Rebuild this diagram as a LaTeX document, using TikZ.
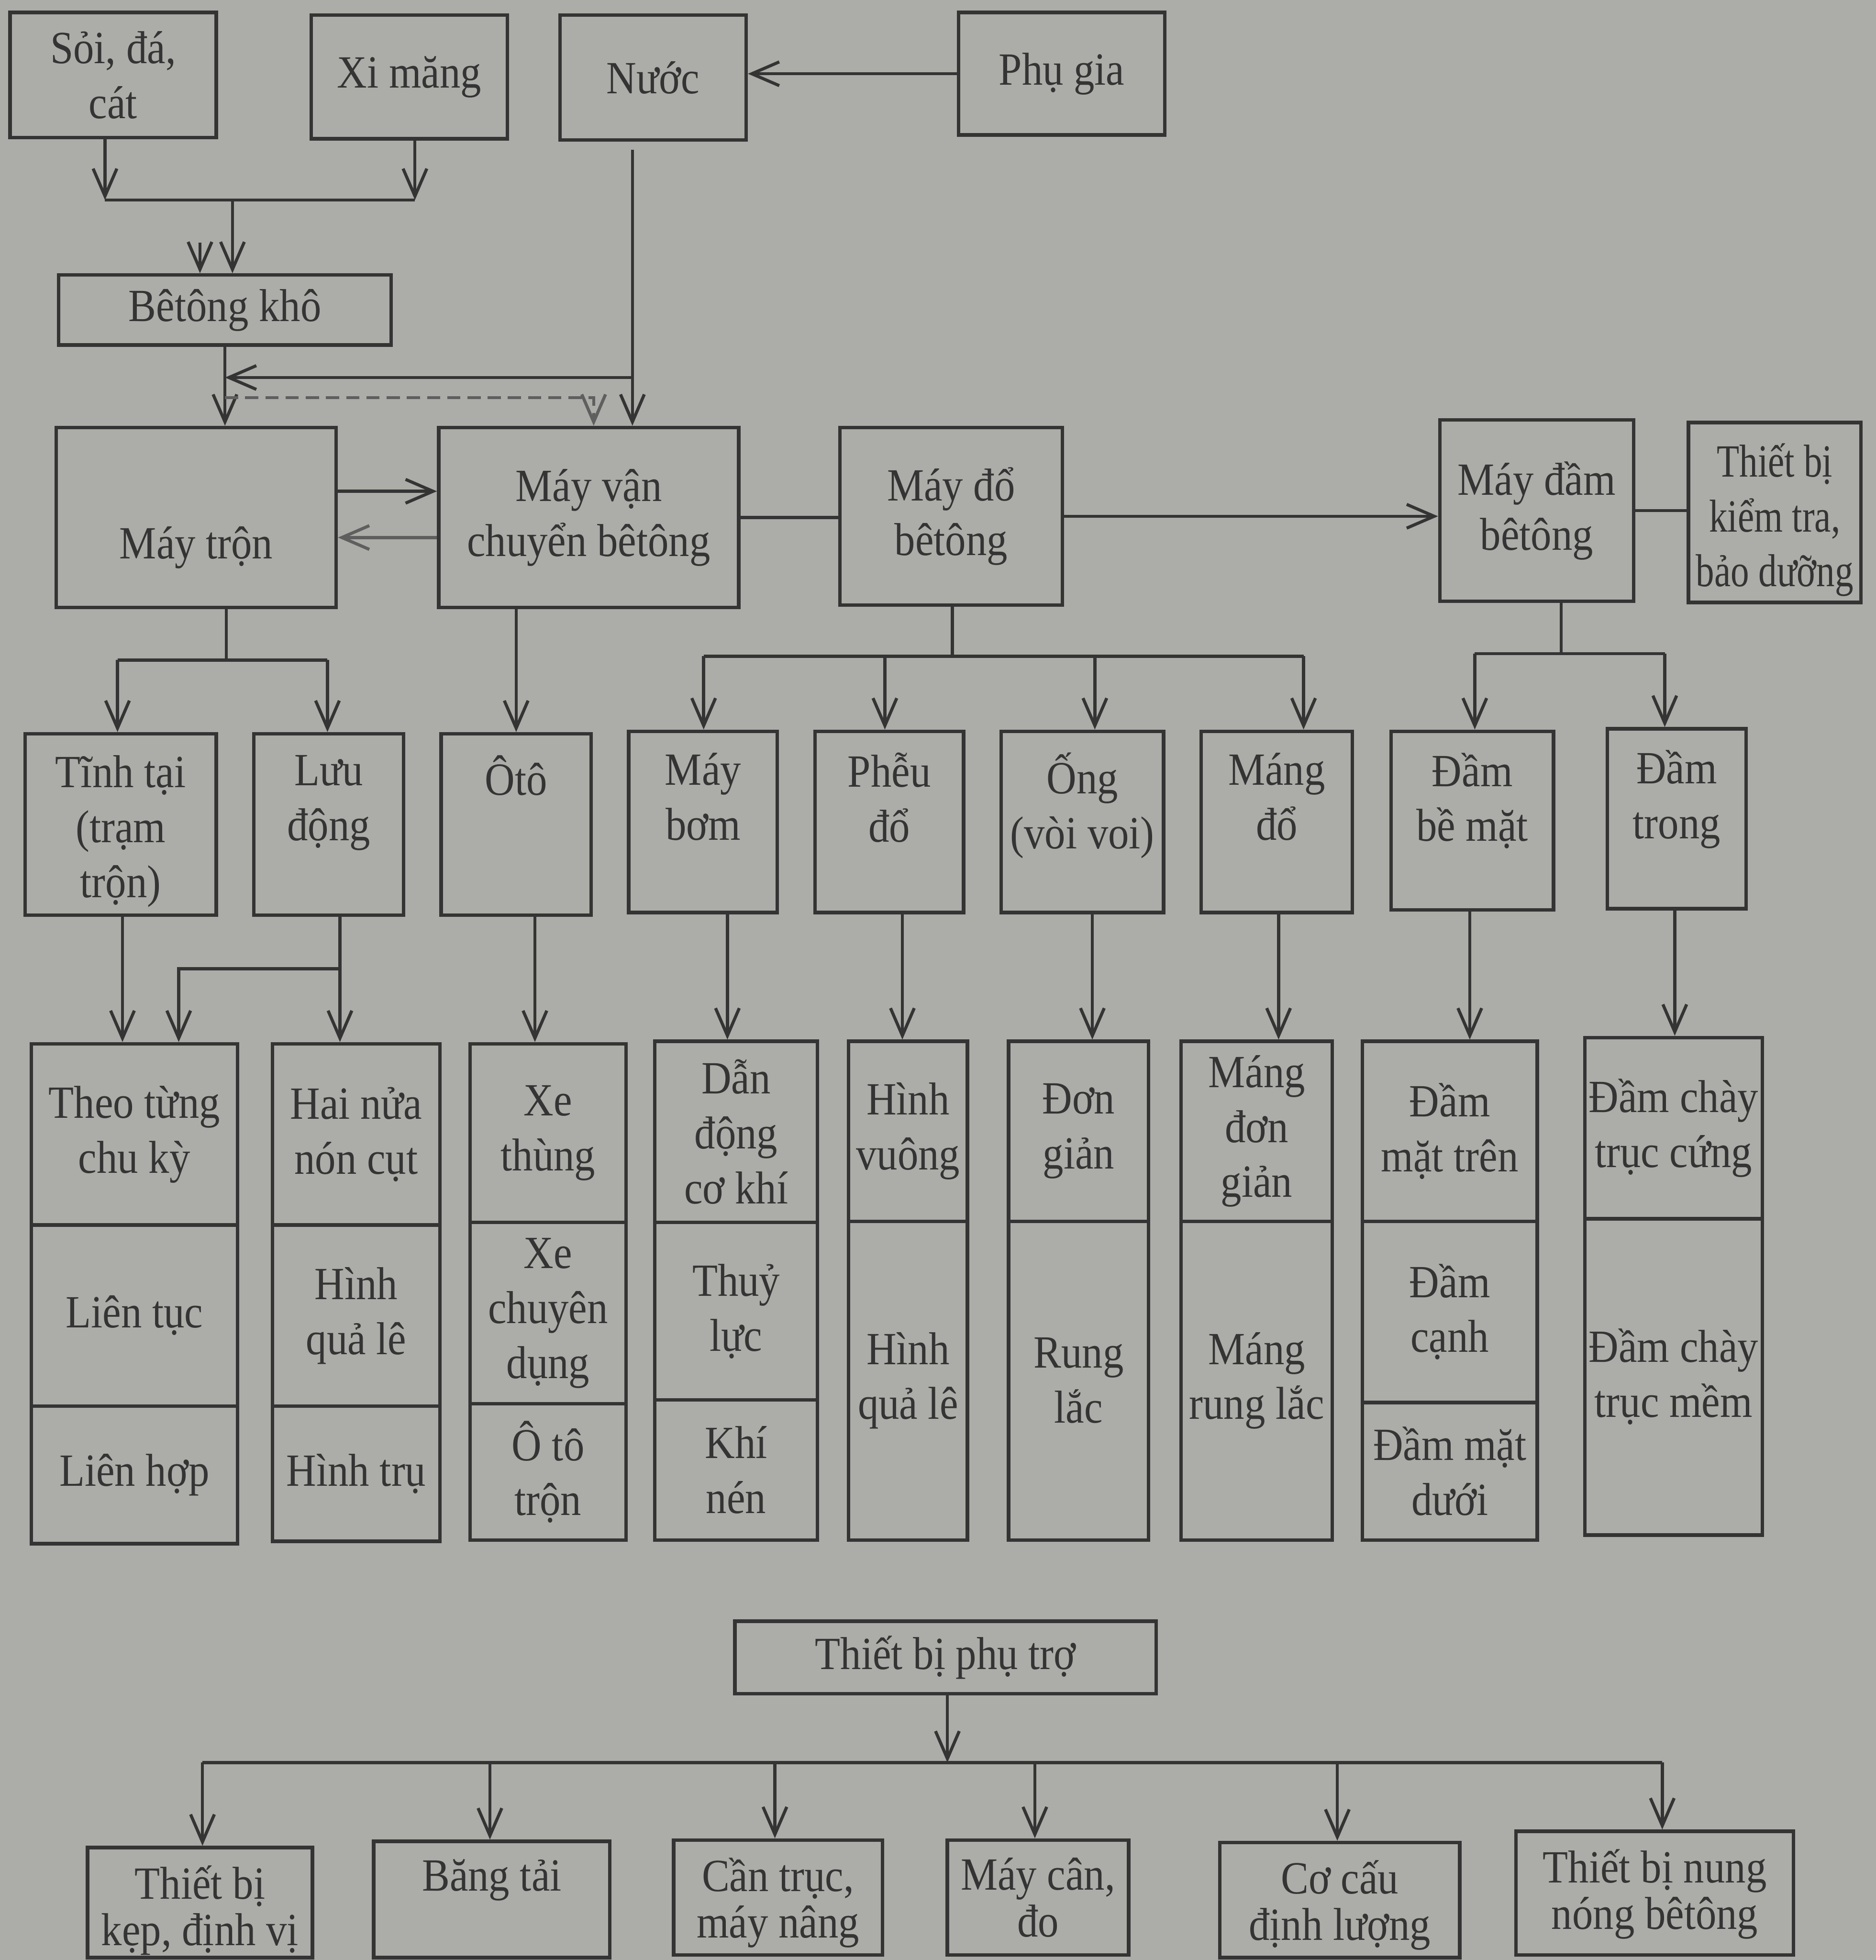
\documentclass[tikz,border=0pt]{standalone}
\usepackage{fontspec}
\setmainfont{Liberation Serif}[FakeStretch=0.9]
\usetikzlibrary{
    arrows.meta,
    positioning,
    fit
}
\definecolor{PaperGray}{RGB}{172,172,168}
\definecolor{InkGray}{RGB}{52,52,52}
\definecolor{FaintInk}{RGB}{95,95,95}
\newcommand{\boxfont}{\fontsize{10.5}{12.5}\selectfont}
\newcommand{\tightfont}{\fontsize{10.5}{10.6}\selectfont}
\tikzset{
  box/.style     = {draw=InkGray, line width=0.8pt, inner sep=0pt},
  txt/.style     = {inner sep=0pt, align=center, text=InkGray, font=\boxfont},
  ctext/.style   = {txt, anchor=center},
  toptext/.style = {txt, anchor=north, yshift=-1.8mm},
  lowtext/.style = {txt, font=\tightfont, anchor=north, yshift=-1.5mm},
  arr/.style     = {-{Straight Barb[length=2.2mm,width=1.9mm]}, InkGray, line width=0.7pt},
  ln/.style      = {InkGray, line width=0.7pt},
  faint/.style   = {FaintInk}
}

\begin{document}
\begin{tikzpicture}[x=0.1mm, y=-0.1mm]
\useasboundingbox (0,0) rectangle (1501,1568);
\clip (0,0) rectangle (1501,1568);
\fill[PaperGray] (0,0) rectangle (1501,1568);

% raw materials
\node[box, fit={(8,10) (173,110)},   label={[ctext]center:{Sỏi, đá,\\cát}}] (soi)    {};
\node[box, fit={(249,12) (406,111)}, label={[ctext]center:Xi măng}]         (ximang) {};
\node[box, fit={(448,12) (597,112)}, label={[ctext]center:Nước}]            (nuoc)   {};
\node[box, fit={(767,10) (932,108)}, label={[ctext]center:Phụ gia}]         (phugia) {};
\node[box, fit={(47,220) (313,276)}, label={[ctext]center:Bêtông khô}]      (kho)    {};

% main machines
\node[box, fit={(45,342) (269,486)},   label={[ctext, yshift=-2.4mm]center:Máy trộn}]     (tron)      {};
\node[box, fit={(351,342) (591,486)},  label={[ctext]center:Máy vận\\chuyển bêtông}]      (vanchuyen) {};
\node[box, fit={(672,342) (850,484)},  label={[ctext]center:Máy đổ\\bêtông}]              (maydo)     {};
\node[box, fit={(1152,336) (1307,481)},label={[ctext]center:Máy đầm\\bêtông}]             (maydam)    {};
\node[box, fit={(1351,338) (1489,482)},
      label={[ctext, yshift=-0.6mm, font=\boxfont\addfontfeature{FakeStretch=0.8}]center:{Thiết bị\\kiểm tra,\\bảo dưỡng}}] (kiemtra) {};

% second level
\node[box, fit={(20,587) (173,732)},    label={[toptext]north:Tĩnh tại\\(trạm\\trộn)}] (tinhtai)  {};
\node[box, fit={(203,587) (323,732)},   label={[toptext]north:Lưu\\động}]              (luudong)  {};
\node[box, fit={(353,587) (473,732)},   label={[toptext]north:Ôtô}]                    (oto)      {};
\node[box, fit={(503,585) (622,730)},   label={[toptext]north:Máy\\bơm}]               (maybom)   {};
\node[box, fit={(652,585) (771,730)},   label={[toptext]north:Phễu\\đổ}]               (pheu)     {};
\node[box, fit={(801,585) (931,730)},   label={[toptext]north:Ống\\(vòi voi)}]         (ong)      {};
\node[box, fit={(961,585) (1082,730)},  label={[toptext]north:Máng\\đổ}]               (mangdo)   {};
\node[box, fit={(1113,585) (1243,728)}, label={[toptext]north:Đầm\\bề mặt}]            (dambemat) {};
\node[box, fit={(1286,583) (1397,727)}, label={[toptext]north:Đầm\\trong}]             (damtrong) {};

% third level
\node[box, fit={(25,835) (190,980)},     label={[ctext]center:Theo từng\\chu kỳ}]   (a1) {};
\node[box, fit={(25,980) (190,1125)},    label={[ctext]center:Liên tục}]            (a2) {};
\node[box, fit={(25,1125) (190,1235)},   label={[ctext]center:Liên hợp}]            (a3) {};
\node[box, fit={(218,835) (352,980)},    label={[ctext]center:Hai nửa\\nón cụt}]    (b1) {};
\node[box, fit={(218,980) (352,1125)},   label={[ctext]center:Hình\\quả lê}]        (b2) {};
\node[box, fit={(218,1125) (352,1233)},  label={[ctext]center:Hình trụ}]            (b3) {};
\node[box, fit={(376,835) (501,978)},    label={[ctext]center:Xe\\thùng}]           (c1) {};
\node[box, fit={(376,978) (501,1123)},   label={[ctext]center:Xe\\chuyên\\dụng}]    (c2) {};
\node[box, fit={(376,1123) (501,1232)},  label={[ctext]center:Ô tô\\trộn}]          (c3) {};
\node[box, fit={(524,833) (654,978)},    label={[ctext]center:Dẫn\\động\\cơ khí}]   (d1) {};
\node[box, fit={(524,978) (654,1120)},   label={[ctext]center:Thuỷ\\lực}]           (d2) {};
\node[box, fit={(524,1120) (654,1232)},  label={[ctext]center:Khí\\nén}]            (d3) {};
\node[box, fit={(679,833) (774,977)},    label={[ctext]center:Hình\\vuông}]         (e1) {};
\node[box, fit={(679,977) (774,1232)},   label={[ctext]center:Hình\\quả lê}]        (e2) {};
\node[box, fit={(807,833) (919,977)},    label={[ctext]center:Đơn\\giản}]           (f1) {};
\node[box, fit={(807,977) (919,1232)},   label={[ctext]center:Rung\\lắc}]           (f2) {};
\node[box, fit={(945,833) (1066,977)},   label={[ctext]center:Máng\\đơn\\giản}]     (g1) {};
\node[box, fit={(945,977) (1066,1232)},  label={[ctext]center:Máng\\rung lắc}]      (g2) {};
\node[box, fit={(1090,833) (1230,977)},  label={[ctext]center:Đầm\\mặt trên}]       (h1) {};
\node[box, fit={(1090,977) (1230,1122)}, label={[ctext]center:Đầm\\cạnh}]           (h2) {};
\node[box, fit={(1090,1122) (1230,1232)},label={[ctext]center:Đầm mặt\\dưới}]       (h3) {};
\node[box, fit={(1268,830) (1410,975)},  label={[ctext]center:Đầm chày\\trục cứng}] (i1) {};
\node[box, fit={(1268,975) (1410,1228)}, label={[ctext]center:Đầm chày\\trục mềm}]  (i2) {};

% auxiliary equipment
\node[box, fit={(588,1297) (925,1355)},  label={[ctext]center:Thiết bị phụ trợ}] (phutro) {};
\node[box, fit={(70,1478) (250,1566)},   label={[lowtext]north:{Thiết bị\\kẹp, định vị}}]   (kep)     {};
\node[box, fit={(299,1473) (488,1566)},  label={[lowtext]north:Băng tải}]                   (bangtai) {};
\node[box, fit={(539,1472) (706,1564)},  label={[lowtext]north:{Cần trục,\\máy nâng}}]      (cantruc) {};
\node[box, fit={(758,1472) (903,1564)},  label={[lowtext]north:{Máy cân,\\đo}}]             (maycan)  {};
\node[box, fit={(976,1474) (1168,1566)}, label={[lowtext]north:Cơ cấu\\định lượng}]         (cocau)   {};
\node[box, fit={(1213,1465) (1435,1564)},label={[lowtext]north:Thiết bị nung\\nóng bêtông}] (nung)    {};

% material flow
\draw[arr] (phugia.west) -- (phugia.west -| nuoc.east);
\coordinate (mixL) at (84,160);
\coordinate (mixR) at (332,160);
\coordinate (mixM) at (186,160);
\coordinate (dbl)  at (160,194);
\draw[arr] (mixL |- soi.south) -- (mixL);
\draw[arr] (mixR |- ximang.south) -- (mixR);
\draw[ln]  (mixL) -- (mixR);
\draw[arr] (mixM) -- (mixM |- kho.north);
\draw[arr] (dbl) -- (dbl |- kho.north);
\draw[arr] (kho.south) -- (kho.south |- tron.north);
\coordinate (nv)  at (506,120);
\coordinate (nt)  at (506,302);
\coordinate (dsh) at (475,318);
\draw[arr] (nv) -- (nv |- vanchuyen.north);
\draw[arr] (nt) -- (nt -| kho.south);
\draw[arr, faint, dash pattern=on 3pt off 1.6pt] (dsh -| kho.south) -- (dsh) -- (dsh |- vanchuyen.north);

% main chain
\coordinate (tv) at ([yshift=2.1mm]tron.east);
\coordinate (vt) at ([yshift=-1.6mm]vanchuyen.west);
\draw[arr] (tv) -- (tv -| vanchuyen.west);
\draw[arr, faint] (vt) -- (vt -| tron.east);
\draw[ln]  (vanchuyen.east) -- (vanchuyen.east -| maydo.west);
\draw[arr] (maydo.east) -- (maydo.east -| maydam.west);
\draw[ln]  (maydam.east) -- (maydam.east -| kiemtra.west);

% branches to second level
\coordinate (trB) at (181,528);
\draw[ln] (trB |- tron.south) -- (trB);
\draw[ln] (94,528) -- (262,528);
\foreach \x/\dn in {94/tinhtai, 262/luudong} {
  \coordinate (t) at (\x,528);
  \draw[arr] (t) -- (t |- \dn.north);
}
\coordinate (vcB) at (413,500);
\draw[arr] (vcB |- vanchuyen.south) -- (vcB |- oto.north);
\coordinate (doB) at (762,525);
\draw[ln] (doB |- maydo.south) -- (doB);
\draw[ln] (563,525) -- (1043,525);
\foreach \x/\dn in {563/maybom, 708/pheu, 876/ong, 1043/mangdo} {
  \coordinate (t) at (\x,525);
  \draw[arr] (t) -- (t |- \dn.north);
}
\coordinate (dmB) at (1249,523);
\draw[ln] (dmB |- maydam.south) -- (dmB);
\draw[ln] (1180,523) -- (1332,523);
\foreach \x/\dn in {1180/dambemat, 1332/damtrong} {
  \coordinate (t) at (\x,523);
  \draw[arr] (t) -- (t |- \dn.north);
}

% second to third level
\foreach \x/\up/\dn in {98/tinhtai/a1, 428/oto/c1, 582/maybom/d1, 722/pheu/e1,
                        874/ong/f1, 1023/mangdo/g1, 1176/dambemat/h1, 1340/damtrong/i1} {
  \coordinate (t) at (\x,0);
  \draw[arr] (t |- \up.south) -- (t |- \dn.north);
}
\coordinate (ld)  at (272,775);
\coordinate (ldL) at (143,775);
\draw[ln]  (ld |- luudong.south) -- (ld);
\draw[arr] (ld) -- (ld |- b1.north);
\draw[arr] (ld) -- (ldL) -- (ldL |- a1.north);

% auxiliary branches
\coordinate (ptB) at (758,1410);
\draw[arr] (ptB |- phutro.south) -- (ptB);
\draw[ln]  (162,1410) -- (1330,1410);
\foreach \x/\dn in {162/kep, 392/bangtai, 620/cantruc, 828/maycan, 1070/cocau, 1330/nung} {
  \coordinate (t) at (\x,1410);
  \draw[arr] (t) -- (t |- \dn.north);
}
\end{tikzpicture}
\end{document}
